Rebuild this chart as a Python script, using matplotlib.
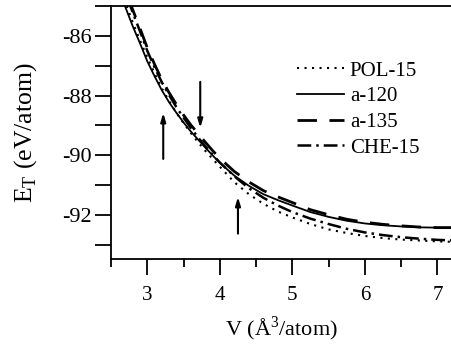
import matplotlib
matplotlib.use("Agg")
import matplotlib.pyplot as plt
from matplotlib.ticker import MultipleLocator

plt.rcParams['font.family'] = ['Liberation Serif', 'DejaVu Serif']
plt.rcParams['axes.unicode_minus'] = False
plt.rcParams['mathtext.fontset'] = 'custom'
plt.rcParams['mathtext.rm'] = 'Liberation Serif'

V = [2.6, 2.7, 2.8, 2.9, 3.0, 3.1, 3.2, 3.3, 3.4, 3.5, 3.6, 3.7, 3.8, 3.9, 4.0,
     4.2, 4.4, 4.6, 4.8, 5.0, 5.25, 5.5, 5.75, 6.0, 6.25, 6.5, 6.75, 7.0, 7.25]

pol15 = [-84.2, -84.9, -85.55, -86.15, -86.72, -87.25, -87.75, -88.18, -88.57, -88.92,
         -89.25, -89.56, -89.85, -90.12, -90.38, -90.9, -91.3, -91.62, -91.88, -92.08,
         -92.3, -92.48, -92.6, -92.7, -92.77, -92.82, -92.85, -92.88, -92.9]
a120 = [-84.4, -85.05, -85.68, -86.25, -86.85, -87.35, -87.82, -88.22, -88.57, -88.9,
        -89.2, -89.47, -89.74, -90.0, -90.25, -90.68, -91.02, -91.3, -91.5, -91.68,
        -91.9, -92.06, -92.19, -92.28, -92.34, -92.38, -92.41, -92.42, -92.42]
a135 = [-83.75, -84.45, -85.13, -85.75, -86.4, -86.95, -87.47, -87.9, -88.29, -88.65,
        -88.98, -89.27, -89.56, -89.84, -90.1, -90.54, -90.89, -91.18, -91.39, -91.58,
        -91.82, -91.99, -92.14, -92.24, -92.31, -92.36, -92.4, -92.42, -92.42]
che15 = [-83.85, -84.55, -85.22, -85.85, -86.5, -87.05, -87.55, -87.98, -88.38, -88.74,
         -89.08, -89.4, -89.7, -89.98, -90.24, -90.7, -91.1, -91.42, -91.68, -91.9,
         -92.12, -92.3, -92.46, -92.58, -92.67, -92.74, -92.79, -92.83, -92.85]

labels = ["POL-15", "a-120", "a-135", "CHE-15"]

# arrows: (x, y_start, y_end)
arrow_x = [3.22, 3.73, 4.25]
arrow_y0 = [-90.12, -87.54, -92.62]
arrow_y1 = [-88.58, -89.08, -91.39]

fig = plt.figure(figsize=(4.52, 3.45), dpi=100)
ax = fig.add_axes([111/452, 86/345, 1 - 111/452, (259 - 6)/345])

ax.plot(V, pol15, color='black', lw=1.5, linestyle=(0, (1, 2.6)), label=labels[0])
ax.plot(V, a120, color='black', lw=1.3, linestyle='-', label=labels[1])
ax.plot(V, a135, color='black', lw=2.0, linestyle=(0, (7, 4.5)), label=labels[2])
ax.plot(V, che15, color='black', lw=1.8, linestyle=(0, (5.5, 2, 1, 2)), label=labels[3])

for x, y0, y1 in zip(arrow_x, arrow_y0, arrow_y1):
    ax.annotate("", xy=(x, y1), xytext=(x, y0),
                arrowprops=dict(arrowstyle="-|>,head_length=0.5,head_width=0.15",
                                color='black', lw=1.5, shrinkA=0, shrinkB=0))

ax.set_xlim(2.5, 7.2)
ax.set_ylim(-93.47, -85.0)
ax.xaxis.set_major_locator(MultipleLocator(1))
ax.xaxis.set_minor_locator(MultipleLocator(0.5))
ax.yaxis.set_major_locator(MultipleLocator(2))
ax.yaxis.set_minor_locator(MultipleLocator(1))
ax.tick_params(which='major', axis='x', direction='out', length=11.5, width=1.3, labelsize=15, pad=8)
ax.tick_params(which='minor', axis='x', direction='out', length=6, width=1.3)
ax.tick_params(which='both', axis='y', direction='out', length=11.5, width=1.3, labelsize=16, pad=2)
for s in ['left', 'bottom', 'top']:
    ax.spines[s].set_linewidth(1.3)
ax.spines['right'].set_visible(False)

ax.set_xlabel("V (Å$^3$/atom)", fontsize=16, labelpad=7)
ax.set_ylabel("E$_\\mathrm{T}$ (eV/atom)", fontsize=18.5, labelpad=17)

leg = ax.legend(loc='upper left', bbox_to_anchor=(0.52, 0.815), frameon=False,
                fontsize=15, handlelength=2.25, handletextpad=0.3, labelspacing=0.29,
                borderaxespad=0)

fig.savefig("out.png", dpi=100)
